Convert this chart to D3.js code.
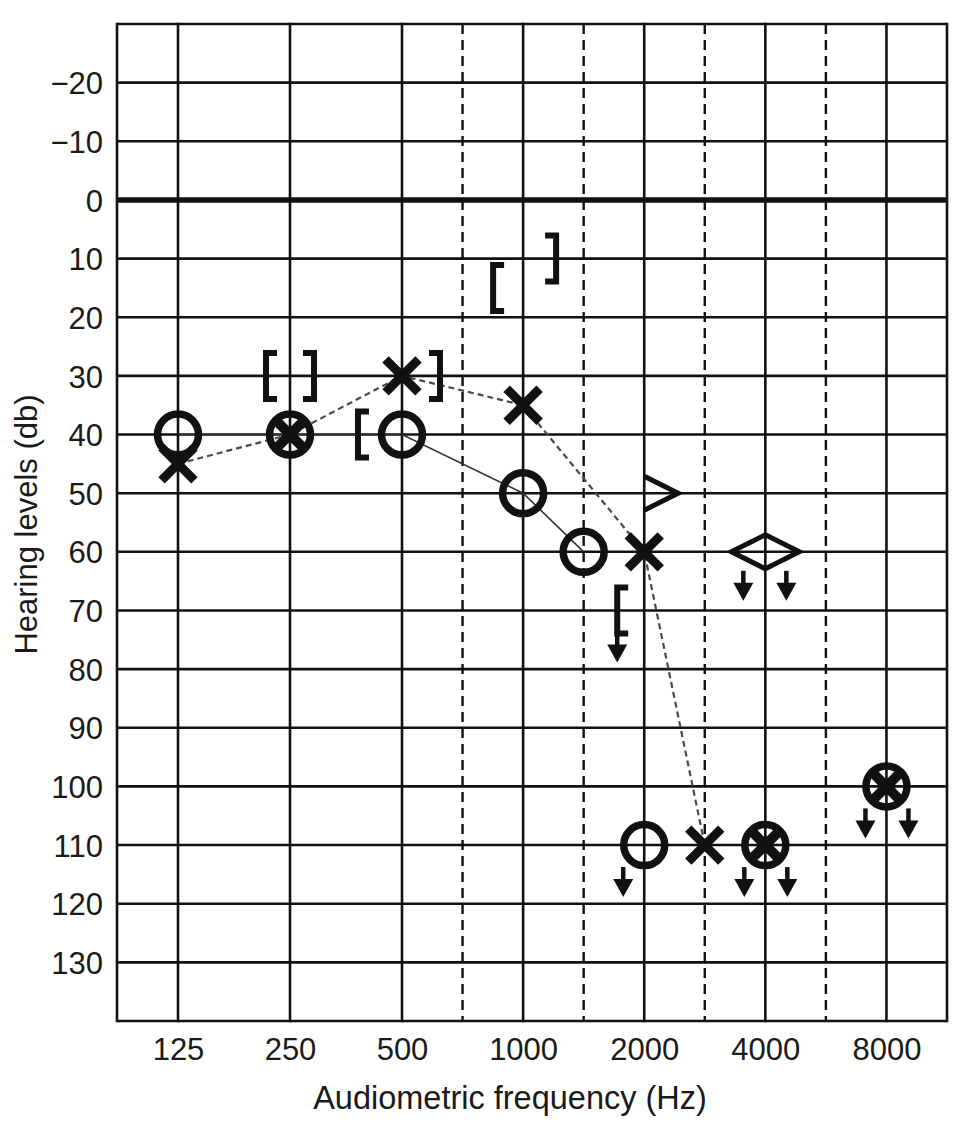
<!DOCTYPE html>
<html><head><meta charset="utf-8">
<script src="https://cdn.jsdelivr.net/npm/d3@7"></script>
<style>html,body{margin:0;padding:0;background:#fff}</style>
</head><body>
<svg id="chart" width="969" height="1132"></svg>
<script>
// ---------------- DATA ----------------
const octaveFreqs = [125, 250, 500, 1000, 2000, 4000, 8000];
const octaveLabels = ["125", "250", "500", "1000", "2000", "4000", "8000"];
const midOctaveFreqs = [750, 1500, 3000, 6000];
const dbTicks = [-20, -10, 0, 10, 20, 30, 40, 50, 60, 70, 80, 90, 100, 110, 120, 130];
const dbGrid = [-30, -20, -10, 0, 10, 20, 30, 40, 50, 60, 70, 80, 90, 100, 110, 120, 130, 140];

// Right ear, air conduction (O)
const rightAirFreq = [125, 250, 500, 1000, 1500, 2000, 4000, 8000];
const rightAirDb   = [40, 40, 40, 50, 60, 110, 110, 100];
const rightAirNR   = [false, false, false, false, false, true, true, true];

// Left ear, air conduction (X)
const leftAirFreq = [125, 250, 500, 1000, 2000, 3000, 4000, 8000];
const leftAirDb   = [45, 40, 30, 35, 60, 110, 110, 100];
const leftAirNR   = [false, false, false, false, false, false, true, true];

// Right ear, masked bone conduction ([)
const rightMaskedBoneFreq = [250, 500, 1000, 2000];
const rightMaskedBoneDb   = [30, 40, 15, 70];
const rightMaskedBoneNR   = [false, false, false, true];

// Left ear, masked bone conduction (])
const leftMaskedBoneFreq = [250, 500, 1000];
const leftMaskedBoneDb   = [30, 30, 10];
const leftMaskedBoneNR   = [false, false, false];

// Right ear, unmasked bone conduction (<)
const rightBoneFreq = [4000];
const rightBoneDb   = [60];
const rightBoneNR   = [true];

// Left ear, unmasked bone conduction (>)
const leftBoneFreq = [2000, 4000];
const leftBoneDb   = [50, 60];
const leftBoneNR   = [false, true];

const yTitle = "Hearing levels (db)";
const xTitle = "Audiometric frequency (Hz)";

// ---------------- LAYOUT ----------------
const FONT = "'Liberation Sans', Arial, Helvetica, sans-serif";
const plot = {left: 117, right: 947, top: 24, bottom: 1021};
// bracket bar distance from the frequency line, per frequency (layout only)
const bracketGapLeft  = {250: 24, 500: 44, 1000: 30, 2000: 27};
const bracketGapRight = {250: 24, 500: 38, 1000: 33};

const svg = d3.select("#chart");
svg.append("rect").attr("width", 969).attr("height", 1132).attr("fill", "#fff");

// audiogram position: octave index from 125 Hz, linear inside each octave (750 sits halfway 500-1000)
const base = octaveFreqs[0];
function octPos(f) {
  const o = Math.floor(Math.log2(f / base) + 1e-9);
  return o + (f / (base * Math.pow(2, o)) - 1);
}
const nOct = octaveFreqs.length - 1;
const xs = d3.scaleLinear()
  .domain([-0.5, 0, 1, 2, nOct + 0.5])
  .range([plot.left, 178, 290, 402, plot.right]);
const x = f => xs(octPos(f));
const edgeL = -0.5, edgeR = nOct + 0.5;

const y = d3.scaleLinear().domain([dbGrid[0], dbGrid[dbGrid.length - 1]]).range([plot.top, plot.bottom]);

const ink = "#111";
const grid = svg.append("g");

// horizontal grid lines
grid.selectAll("line.h").data(dbGrid).join("line")
  .attr("x1", xs(edgeL)).attr("x2", xs(edgeR))
  .attr("y1", d => y(d)).attr("y2", d => y(d))
  .attr("stroke", ink)
  .attr("stroke-width", d => d === 0 ? 5.5 : 2.6);

// vertical solid lines (octaves + frame)
grid.selectAll("line.v").data([xs(edgeL), ...octaveFreqs.map(x), xs(edgeR)]).join("line")
  .attr("x1", d => d).attr("x2", d => d)
  .attr("y1", y(dbGrid[0]) - 1.3).attr("y2", y(dbGrid[dbGrid.length - 1]) + 1.3)
  .attr("stroke", ink).attr("stroke-width", 2.6);

// vertical dashed lines (mid-octaves)
grid.selectAll("line.d").data(midOctaveFreqs).join("line")
  .attr("x1", d => x(d)).attr("x2", d => x(d))
  .attr("y1", y(dbGrid[0])).attr("y2", y(dbGrid[dbGrid.length - 1]))
  .attr("stroke", ink).attr("stroke-width", 2.4)
  .attr("stroke-dasharray", "10,6");

// ---------------- AXES ----------------
const xAxisScale = d3.scaleLinear().domain(xs.domain()).range(xs.range());
const xAxis = svg.append("g").attr("transform", `translate(0,${plot.bottom})`)
  .call(d3.axisBottom(xAxisScale).tickValues(octaveFreqs.map(octPos))
    .tickFormat((d, i) => octaveLabels[i]).tickSize(0).tickPadding(17));
xAxis.select(".domain").remove();
xAxis.selectAll("text").attr("font-family", FONT).attr("font-size", 31).attr("fill", "#1a1a1a");

const yAxis = svg.append("g").attr("transform", `translate(${plot.left},0)`)
  .call(d3.axisLeft(y).tickValues(dbTicks).tickFormat(d3.format("d")).tickSize(0).tickPadding(14));
yAxis.select(".domain").remove();
yAxis.selectAll("text").attr("font-family", FONT).attr("font-size", 31).attr("fill", "#1a1a1a").attr("dy", "0.36em");

svg.append("text").attr("x", 510).attr("y", 1109)
  .attr("text-anchor", "middle").attr("font-family", FONT).attr("font-size", 32.5).attr("fill", "#1a1a1a")
  .text(xTitle);
svg.append("text").attr("transform", `translate(37,${(plot.top + plot.bottom) / 2 + 2}) rotate(-90)`)
  .attr("text-anchor", "middle").attr("font-family", FONT).attr("font-size", 31).attr("fill", "#1a1a1a")
  .text(yTitle);

// ---------------- CONNECTING LINES ----------------
const pts = (fs, ds, nr) => fs.map((f, i) => ({f, db: ds[i], nr: nr[i]}));
const rightAir = pts(rightAirFreq, rightAirDb, rightAirNR);
const leftAir = pts(leftAirFreq, leftAirDb, leftAirNR);
const line = d3.line().x(d => x(d.f)).y(d => y(d.db));

svg.append("path").datum(rightAir.filter(d => !d.nr))
  .attr("d", line).attr("fill", "none").attr("stroke", "#333").attr("stroke-width", 1.6);
svg.append("path").datum(leftAir.filter(d => !d.nr))
  .attr("d", line).attr("fill", "none").attr("stroke", "#4a4a4a").attr("stroke-width", 2.2)
  .attr("stroke-dasharray", "6,4");

// ---------------- SYMBOLS ----------------
const sym = svg.append("g");
const defs = svg.append("defs");

function arrow(g, cx, top, stemLen) {
  g.append("line").attr("x1", cx).attr("x2", cx).attr("y1", top).attr("y2", top + stemLen + 2)
    .attr("stroke", ink).attr("stroke-width", 4.5);
  g.append("path")
    .attr("d", `M${cx - 10},${top + stemLen} L${cx + 10},${top + stemLen} L${cx},${top + stemLen + 18} Z`)
    .attr("fill", ink);
}

// O symbols
rightAir.forEach(d => {
  const cx = x(d.f), cy = y(d.db);
  sym.append("circle").attr("cx", cx).attr("cy", cy).attr("r", 20.5)
    .attr("fill", "none").attr("stroke", ink).attr("stroke-width", 7.5);
  if (d.nr) arrow(sym, cx - 21, cy + 22, 12);
});

// X symbols
leftAir.forEach((d, i) => {
  const cx = x(d.f), cy = y(d.db);
  const combined = rightAir.some(o => o.f === d.f && o.db === d.db);
  const h = 16.5;
  const p = sym.append("path")
    .attr("d", `M${cx - h},${cy - h} L${cx + h},${cy + h} M${cx - h},${cy + h} L${cx + h},${cy - h}`)
    .attr("stroke", ink).attr("stroke-width", combined ? 10 : 9).attr("fill", "none");
  if (combined) {
    const id = "clipx" + i;
    defs.append("clipPath").attr("id", id).append("circle").attr("cx", cx).attr("cy", cy).attr("r", 21);
    p.attr("clip-path", `url(#${id})`);
  }
  if (d.nr) arrow(sym, cx + 22, cy + 22, 12);
});

// [ masked bone (right)
rightMaskedBoneFreq.forEach((f, i) => {
  const bx = x(f) - bracketGapLeft[f], cy = y(rightMaskedBoneDb[i]);
  sym.append("path").attr("d", `M${bx + 11},${cy - 23} H${bx} V${cy + 23} H${bx + 11}`)
    .attr("fill", "none").attr("stroke", ink).attr("stroke-width", 6).attr("stroke-linejoin", "miter");
  if (rightMaskedBoneNR[i]) arrow(sym, bx, cy + 23, 11);
});

// ] masked bone (left)
leftMaskedBoneFreq.forEach((f, i) => {
  const bx = x(f) + bracketGapRight[f], cy = y(leftMaskedBoneDb[i]);
  sym.append("path").attr("d", `M${bx - 11},${cy - 23} H${bx} V${cy + 23} H${bx - 11}`)
    .attr("fill", "none").attr("stroke", ink).attr("stroke-width", 6).attr("stroke-linejoin", "miter");
  if (leftMaskedBoneNR[i]) arrow(sym, bx, cy + 23, 11);
});

// < unmasked bone (right)
rightBoneFreq.forEach((f, i) => {
  const cx = x(f), cy = y(rightBoneDb[i]);
  sym.append("path").attr("d", `M${cx},${cy - 17} L${cx - 34},${cy} L${cx},${cy + 17}`)
    .attr("fill", "none").attr("stroke", ink).attr("stroke-width", 5).attr("stroke-linejoin", "miter");
  if (rightBoneNR[i]) arrow(sym, cx - 22, cy + 19, 12);
});

// > unmasked bone (left)
leftBoneFreq.forEach((f, i) => {
  const cx = x(f), cy = y(leftBoneDb[i]);
  sym.append("path").attr("d", `M${cx},${cy - 17} L${cx + 34},${cy} L${cx},${cy + 17}`)
    .attr("fill", "none").attr("stroke", ink).attr("stroke-width", 5).attr("stroke-linejoin", "miter");
  if (leftBoneNR[i]) arrow(sym, cx + 21, cy + 19, 12);
});
</script>
</body></html>
